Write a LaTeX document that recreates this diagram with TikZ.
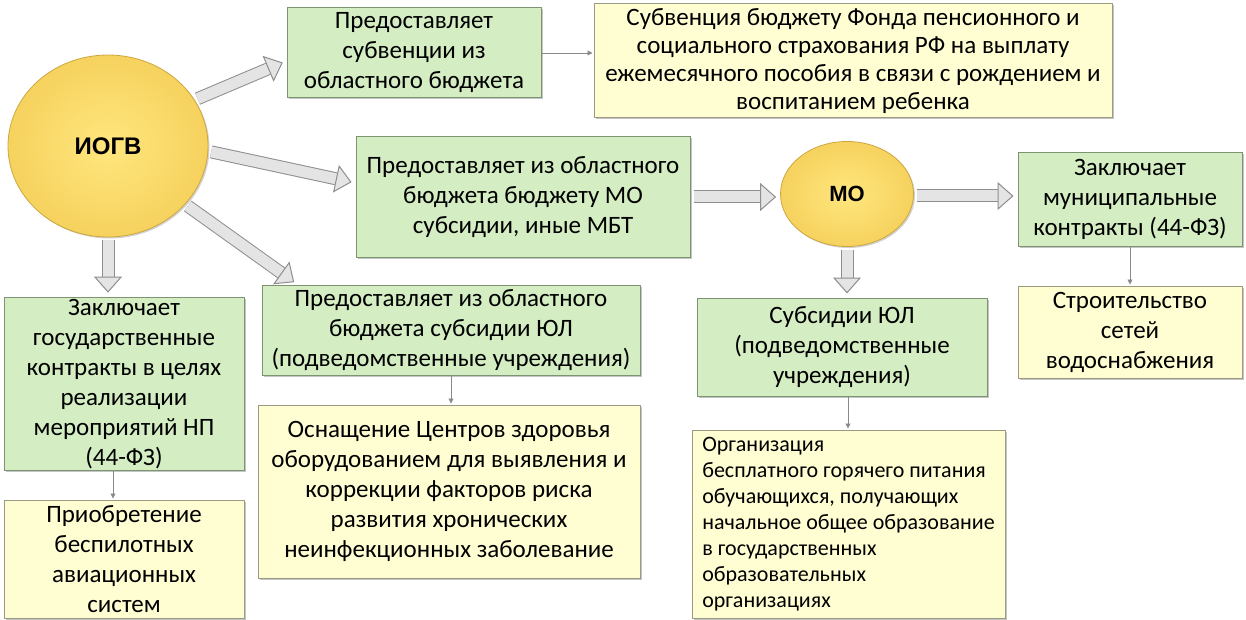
\documentclass[tikz,border=0pt]{standalone}
\usepackage{fontspec}
\setmainfont{Carlito}
\newfontfamily\headfont{Liberation Sans}
\usetikzlibrary{shapes.geometric,arrows.meta,shadows}
\definecolor{boxgreen}{HTML}{D4EDC3}
\definecolor{greenedge}{HTML}{7D9472}
\definecolor{boxyellow}{HTML}{FFFED2}
\definecolor{yellowedge}{HTML}{9C9A82}
\definecolor{sunin}{HTML}{FFE67E}
\definecolor{sunout}{HTML}{F6D25E}
\definecolor{sunedge}{HTML}{CDA640}
\definecolor{arrowfill}{HTML}{E4E4E4}
\definecolor{arrowedge}{HTML}{8E8E8E}
\definecolor{thinline}{HTML}{8A8A8A}
\begin{document}
\begin{tikzpicture}[x=1pt,y=-1pt,
  boxtext/.style={font=\fontsize{25}{30}\selectfont, align=center, inner sep=2pt},
  greenbox/.style={boxtext, draw=greenedge, line width=1pt, fill=boxgreen,
    drop shadow={shadow xshift=1.5pt, shadow yshift=-1.5pt, fill=black!45}},
  yellowbox/.style={boxtext, draw=yellowedge, line width=1pt, fill=boxyellow,
    drop shadow={shadow xshift=1.5pt, shadow yshift=-1.5pt, fill=black!45}},
  sun/.style={ellipse, draw=sunedge, line width=0.8pt, inner color=sunin, outer color=sunout,
    font=\headfont\bfseries\fontsize{24}{28}\selectfont,
    drop shadow={shadow xshift=1.5pt, shadow yshift=-1.5pt, fill=black!35}},
  fatarrow/.style={draw=arrowfill, line width=11pt,
    -{Triangle[length=16pt, width=28pt, fill=arrowfill, color=arrowedge, line width=1pt]},
    preaction={draw=arrowedge, line width=13pt, arrows=-, shorten >=20pt}},
  thinarrow/.style={draw=thinline, line width=0.8pt, -{Triangle[length=5pt, width=5pt]}}]
  \useasboundingbox (0,0) rectangle (1246,620);

  \node[sun, minimum width=200pt, minimum height=182pt] (ogv) at (108,146) {ИОГВ};
  \node[sun, minimum width=133pt, minimum height=105pt,
    font=\headfont\bfseries\fontsize{22}{26}\selectfont] (mo) at (847,194) {МО};

  \node[greenbox, minimum width=254pt, minimum height=90pt] (topg) at (414,53)
    {Предоставляет\\субвенции из\\областного бюджета};
  \node[yellowbox, minimum width=518pt, minimum height=114pt,
    font=\fontsize{25}{28}\selectfont] (topy) at (853,61)
    {Субвенция бюджету Фонда пенсионного и\\социального страхования РФ на выплату\\ежемесячного пособия в связи с рождением и\\воспитанием ребенка};
  \node[greenbox, minimum width=334pt, minimum height=120pt] (midg) at (523,197)
    {Предоставляет из областного\\бюджета бюджету МО\\субсидии, иные МБТ};
  \node[greenbox, minimum width=224pt, minimum height=93pt] (rightg) at (1130,199.5)
    {Заключает\\муниципальные\\контракты (44-ФЗ)};
  \node[yellowbox, minimum width=224pt, minimum height=92pt] (righty) at (1130,332)
    {Строительство\\сетей\\водоснабжения};
  \node[greenbox, minimum width=240pt, minimum height=172pt] (leftg) at (124,384)
    {Заключает\\государственные\\контракты в целях\\реализации\\мероприятий НП\\(44-ФЗ)};
  \node[yellowbox, minimum width=240pt, minimum height=118pt] (lefty) at (124,559)
    {Приобретение\\беспилотных\\авиационных\\систем};
  \node[greenbox, minimum width=378pt, minimum height=90pt] (subul) at (451,330)
    {Предоставляет из областного\\бюджета субсидии ЮЛ\\(подведомственные учреждения)};
  \node[yellowbox, minimum width=382pt, minimum height=173pt] (meda) at (449,491.5)
    {Оснащение Центров здоровья\\оборудованием для выявления и\\коррекции факторов риска\\развития хронических\\неинфекционных заболевание};
  \node[greenbox, minimum width=290pt, minimum height=98pt] (sub2) at (842,347)
    {Субсидии ЮЛ\\(подведомственные\\учреждения)};
  \node[yellowbox, minimum width=313pt, minimum height=188pt, align=left,
    font=\fontsize{22}{26}\selectfont] (orgy) at (848.5,524)
    {Организация\\бесплатного горячего питания\\обучающихся, получающих\\начальное общее образование\\в государственных\\образовательных\\организациях};

  \begin{scope}[shorten <=3pt, shorten >=4pt]
  \path (ogv.28) edge[fatarrow] ([yshift=-8pt]topg.west);
  \path (ogv.-3) edge[fatarrow] ([yshift=14pt]midg.west);
  \path (ogv.-37) edge[fatarrow] ([xshift=36pt]subul.north west);
  \path (ogv.south) edge[fatarrow] (ogv.south |- leftg.north);
  \path (midg.east) edge[fatarrow] (midg.east -| mo.west);
  \path ([yshift=-2pt]mo.east) edge[fatarrow] ([yshift=-2pt]mo.east -| rightg.west);
  \path (mo.south) edge[fatarrow] (mo.south |- sub2.north);
  \end{scope}

  \begin{scope}[shorten >=1pt]
  \path (topg.east) edge[thinarrow] (topg.east -| topy.west);
  \path ([xshift=-11pt]leftg.south) edge[thinarrow] ([xshift=-11pt]leftg.south |- lefty.north);
  \path (subul.south) edge[thinarrow] (subul.south |- meda.north);
  \path (rightg.south) edge[thinarrow] (rightg.south |- righty.north);
  \path ([xshift=6pt]sub2.south) edge[thinarrow] ([xshift=6pt]sub2.south |- orgy.north);
  \end{scope}
\end{tikzpicture}
\end{document}
